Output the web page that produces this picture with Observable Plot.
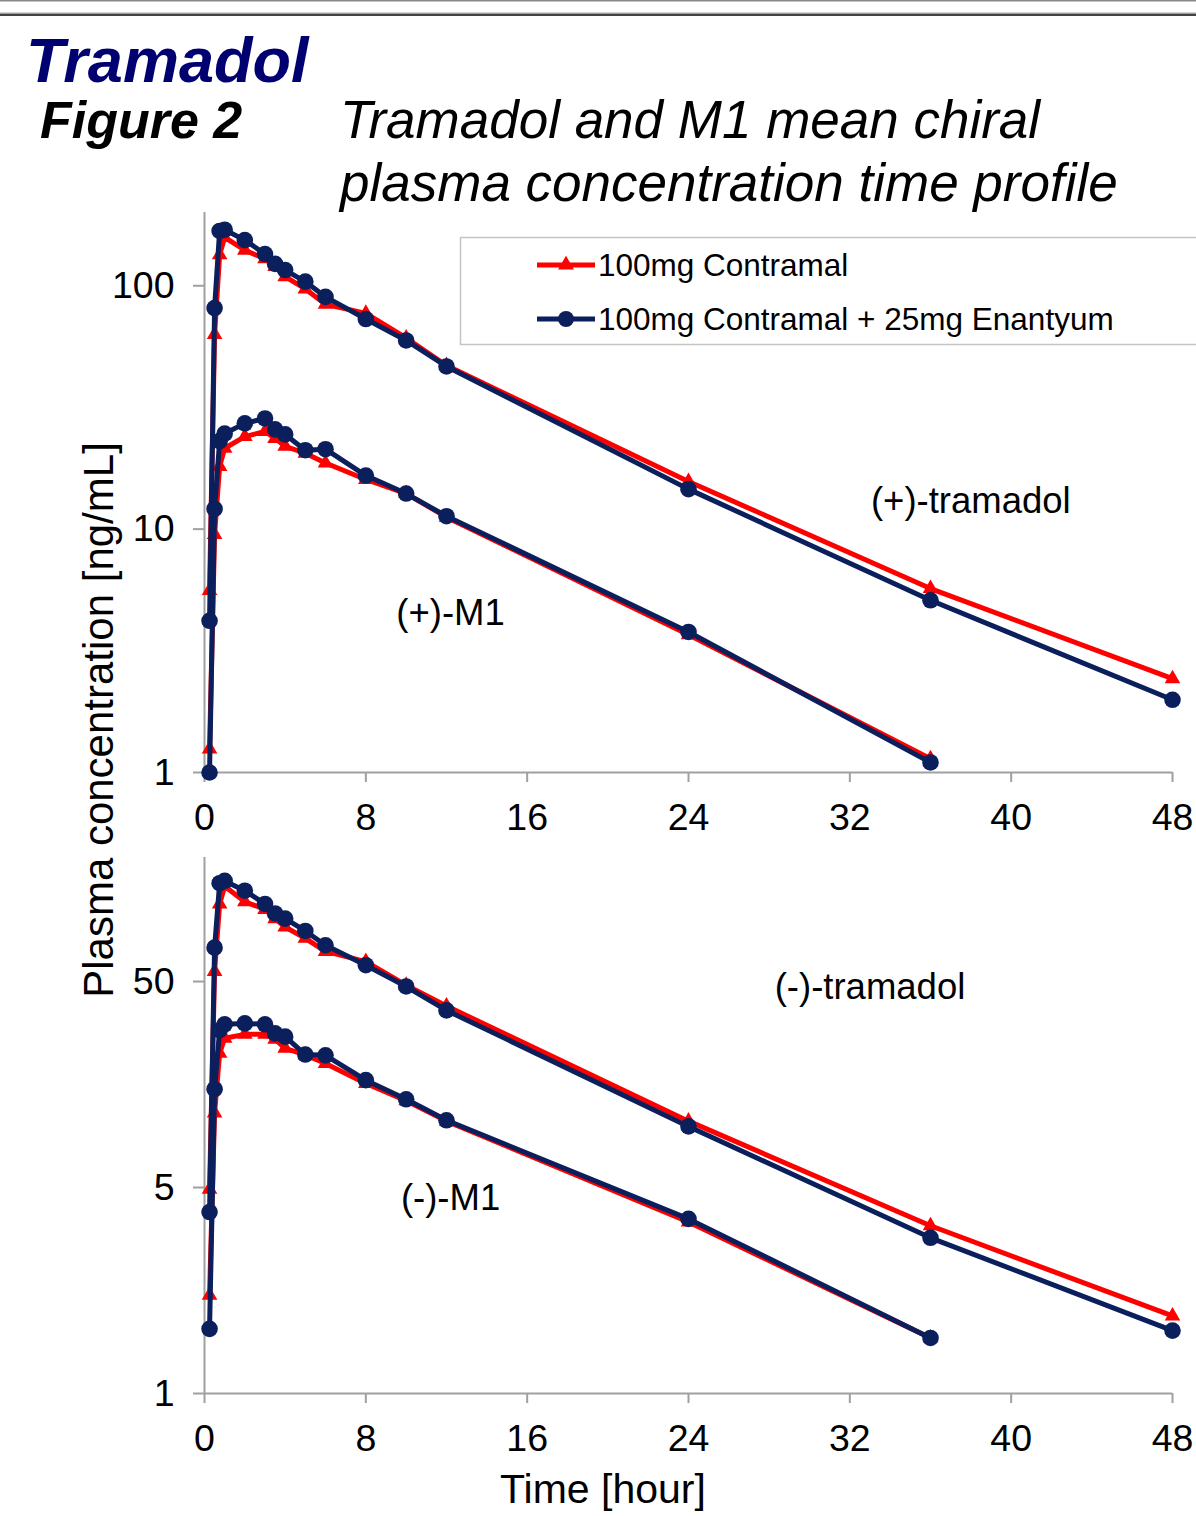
<!DOCTYPE html>
<html>
<head>
<meta charset="utf-8">
<script src="https://cdn.jsdelivr.net/npm/d3@7"></script>
<script src="https://cdn.jsdelivr.net/npm/@observablehq/plot@0.6"></script>
<style>
  html, body { margin: 0; padding: 0; background: #fff; }
  body { width: 1196px; height: 1516px; position: relative; overflow: hidden; font-family: "Liberation Sans", Arial, sans-serif; }
  .abs { position: absolute; left: 0; }
</style>
</head>
<body>
<div id="top" class="abs" style="top:190px"></div>
<div id="bottom" class="abs" style="top:840px"></div>
<svg id="overlay" class="abs" style="top:0" width="1196" height="1516"></svg>
<script>
// ---------- data ----------
const timesTram = [0.25, 0.5, 0.75, 1, 2, 3, 3.5, 4, 5, 6, 8, 10, 12, 24, 36, 48];
const timesM1   = [0.25, 0.5, 0.75, 1, 2, 3, 3.5, 4, 5, 6, 8, 10, 12, 24, 36];

// (+) enantiomers
const plusTramContramal = [5.6, 63, 134, 158, 140, 129, 120, 109, 97, 84, 77, 61, 47, 15.7, 5.7, 2.43];
const plusTramEnantyum  = [4.2, 81, 168, 170, 154, 135, 123, 116, 104, 90, 73, 59.6, 46.6, 14.6, 5.1, 1.99];
const plusM1Contramal   = [1.25, 9.5, 18.1, 21.5, 24, 25.2, 23.6, 21.9, 20.5, 18.7, 16.0, 14.0, 11.2, 3.68, 1.14];
const plusM1Enantyum    = [1.0, 12.1, 23, 24.7, 27.2, 28.5, 25.7, 24.5, 21.1, 21.3, 16.6, 14.0, 11.3, 3.78, 1.10];

// (-) enantiomers
const minusTramContramal = [4.9, 56, 119, 145, 122, 112, 101, 92, 81, 70, 62.5, 48, 38, 10.5, 3.26, 1.19];
const minusTramEnantyum  = [3.8, 73, 150, 154, 138, 119, 107, 101, 88, 75, 60, 47.3, 36.2, 9.9, 2.85, 1.01];
const minusM1Contramal   = [1.5, 11.5, 22.4, 26.5, 27.7, 27.7, 26.2, 23.7, 22, 20, 16, 13.2, 10.5, 3.4, 0.93];
const minusM1Enantyum    = [1.03, 15, 29, 31, 31.3, 31, 28, 27, 22.1, 21.9, 16.6, 13.4, 10.6, 3.52, 0.93];

const seriesNames = ["100mg Contramal", "100mg Contramal + 25mg Enantyum"];
const xTicks = [0, 8, 16, 24, 32, 40, 48];
const topTicks = [1, 10, 100];
const topTickLabels = ["1", "10", "100"];
const bottomTicks = [0.5, 5, 50];
const bottomTickLabels = ["1", "5", "50"];

const RED = "#ff0000";
const NAVY = "#0b1f5c";
const AXIS = "#a0a0a0";
const FONT = "'Liberation Sans', Arial, sans-serif";
const TICK_FS = 37.5;

function rows(times, values, series, analyte) {
  return values.map((v, i) => ({t: times[i], v, series, analyte}));
}

function panel(redRows, blueRows, opts) {
  const tickRows = opts.ticks.map((v, i) => ({v, label: opts.labels[i]}));
  return Plot.plot({
    width: 1196,
    height: opts.height,
    marginLeft: 204,
    marginRight: 24,
    marginTop: opts.marginTop,
    marginBottom: opts.marginBottom,
    style: {fontFamily: FONT, fontSize: TICK_FS + "px", color: "#000", background: "transparent", overflow: "visible"},
    x: {domain: [0, 48]},
    y: {type: "log", domain: opts.domain},
    marks: [
      Plot.ruleX([0], {stroke: AXIS, strokeWidth: 2}),
      Plot.ruleY([opts.domain[0]], {stroke: AXIS, strokeWidth: 2}),
      Plot.axisX({ticks: xTicks, tickSize: 10, tickPadding: 21, stroke: AXIS, strokeWidth: 2, fill: "#000", label: null, fontSize: TICK_FS}),
      Plot.axisY({ticks: opts.ticks, tickFormat: () => "", tickSize: 11, tickPadding: 18, stroke: AXIS, strokeWidth: 2, label: null}),
      Plot.text(tickRows, {y: "v", text: "label", frameAnchor: "left", dx: -30, textAnchor: "end", fontSize: TICK_FS, fill: "#000"}),
      Plot.line(redRows, {x: "t", y: "v", z: "analyte", stroke: RED, strokeWidth: 5}),
      Plot.dot(redRows, {x: "t", y: "v", symbol: "triangle", r: 5.8, fill: RED, stroke: "none"}),
      Plot.line(blueRows, {x: "t", y: "v", z: "analyte", stroke: NAVY, strokeWidth: 5}),
      Plot.dot(blueRows, {x: "t", y: "v", symbol: "circle", r: 8.3, fill: NAVY, stroke: "none"}),
      ...opts.annotations.map(a => Plot.text([a.text], {x: a.x, y: a.y, text: d => d, fontSize: 36.5, fill: "#000", textAnchor: "middle"}))
    ]
  });
}

const topRed = [
  ...rows(timesTram, plusTramContramal, seriesNames[0], "tramadol"),
  ...rows(timesM1, plusM1Contramal, seriesNames[0], "M1")
];
const topBlue = [
  ...rows(timesTram, plusTramEnantyum, seriesNames[1], "tramadol"),
  ...rows(timesM1, plusM1Enantyum, seriesNames[1], "M1")
];
const botRed = [
  ...rows(timesTram, minusTramContramal, seriesNames[0], "tramadol"),
  ...rows(timesM1, minusM1Contramal, seriesNames[0], "M1")
];
const botBlue = [
  ...rows(timesTram, minusTramEnantyum, seriesNames[1], "tramadol"),
  ...rows(timesM1, minusM1Enantyum, seriesNames[1], "M1")
];

document.getElementById("top").appendChild(panel(topRed, topBlue, {
  height: 650, marginTop: 22, marginBottom: 68, domain: [1, 200],
  ticks: topTicks, labels: topTickLabels,
  annotations: [{text: "(+)-tramadol", x: 38, y: 13}, {text: "(+)-M1", x: 12.2, y: 4.5}]
}));
document.getElementById("bottom").appendChild(panel(botRed, botBlue, {
  height: 676, marginTop: 17, marginBottom: 123, domain: [0.5, 200],
  ticks: bottomTicks, labels: bottomTickLabels,
  annotations: [{text: "(-)-tramadol", x: 33, y: 47}, {text: "(-)-M1", x: 12.2, y: 4.45}]
}));

// ---------- overlay: header, axis titles, legend ----------
const svg = d3.select("#overlay").style("font-family", FONT);
svg.append("rect").attr("x", 0).attr("y", 0).attr("width", 1196).attr("height", 1.5).attr("fill", "#888");
svg.append("rect").attr("x", 0).attr("y", 12.5).attr("width", 1196).attr("height", 1.2).attr("fill", "#aaa");
svg.append("rect").attr("x", 0).attr("y", 13.7).attr("width", 1196).attr("height", 2.3).attr("fill", "#444");

svg.append("text").attr("x", 26).attr("y", 82).attr("font-size", 63).attr("font-weight", "bold")
  .attr("font-style", "italic").attr("fill", "#000070").text("Tramadol");
svg.append("text").attr("x", 40).attr("y", 138).attr("font-size", 52).attr("font-weight", "bold")
  .attr("font-style", "italic").attr("fill", "#000").text("Figure 2");
svg.append("text").attr("x", 340).attr("y", 138).attr("font-size", 53)
  .attr("font-style", "italic").attr("fill", "#000").text("Tramadol and M1 mean chiral");
svg.append("text").attr("x", 340).attr("y", 201).attr("font-size", 53)
  .attr("font-style", "italic").attr("fill", "#000").text("plasma concentration time profile");

svg.append("text").attr("transform", "translate(113,720) rotate(-90)").attr("text-anchor", "middle")
  .attr("font-size", 42).attr("fill", "#000").text("Plasma concentration [ng/mL]");
svg.append("text").attr("x", 603).attr("y", 1503).attr("text-anchor", "middle")
  .attr("font-size", 41).attr("fill", "#000").text("Time [hour]");

// legend
svg.append("rect").attr("x", 460.5).attr("y", 237.5).attr("width", 800).attr("height", 107)
  .attr("fill", "#fff").attr("stroke", "#c4c4c4").attr("stroke-width", 1.5);
const legendItems = [
  {name: seriesNames[0], color: RED, sym: d3.symbolTriangle, size: 110, y: 265},
  {name: seriesNames[1], color: NAVY, sym: d3.symbolCircle, size: 200, y: 319}
];
legendItems.forEach(it => {
  svg.append("line").attr("x1", 537).attr("x2", 595).attr("y1", it.y).attr("y2", it.y)
    .attr("stroke", it.color).attr("stroke-width", 5);
  svg.append("path").attr("d", d3.symbol(it.sym, it.size)()).attr("transform", `translate(566,${it.y})`)
    .attr("fill", it.color);
  svg.append("text").attr("x", 598).attr("y", it.y + 11).attr("font-size", 31.5).attr("fill", "#000").text(it.name);
});
</script>
</body>
</html>
